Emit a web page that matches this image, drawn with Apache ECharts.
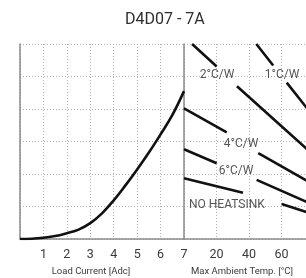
<!DOCTYPE html>
<html>
<head>
<meta charset="utf-8">
<script src="https://cdn.jsdelivr.net/npm/echarts@6/dist/echarts.min.js"></script>
<style>
  html, body { margin: 0; padding: 0; background: #fff; }
  #chart { width: 306px; height: 278px; }
</style>
</head>
<body>
<div id="chart"></div>
<script>
var FONT = "Roboto, 'Liberation Sans', sans-serif";

// left panel: power dissipation vs load current
var loadCurrent = [0, 0.5, 1, 1.5, 2, 2.5, 3, 3.5, 4, 4.5, 5, 5.5, 6, 6.5, 7];
var powerDiss = [0, 0.01, 0.04, 0.09, 0.18, 0.29, 0.49, 0.79, 1.19, 1.65, 2.14, 2.66, 3.22, 3.81, 4.55];

// right panel: derating lines [temp, power], null = gap for the label
var derate1 = [[44.5, 6.0], [54.9, 5.34], null, [63.2, 4.81], [80, 3.75]];
var derate2 = [[5, 6.0], [20.1, 5.31], null, [32.6, 4.7], [80, 2.57]];
var derate4 = [[0, 4.02], [26.3, 3.28], null, [45.7, 2.64], [80, 1.67]];
var derate6 = [[0, 2.76], [20.1, 2.33], null, [44.7, 1.82], [80, 1.04]];
var derateNone = [[0, 1.87], [36.3, 1.42], null, [60.1, 1.08], [80, 0.75]];

var ratingNames = ['2°C/W', '1°C/W', '4°C/W', '6°C/W', 'NO HEATSINK'];
var ratingLabelPos = [[20.3, 5.05], [60.3, 5.05], [35.1, 2.91], [32, 2.09], [26.4, 1.05]];

var chart = echarts.init(document.getElementById('chart'));

var gridLine = { show: true, lineStyle: { color: '#b0b0b0', type: [1, 2], width: 1 } };
var axisBorder = { show: true, lineStyle: { color: '#8a8a8a', width: 1.5 } };

function derateSeries(data) {
    return {
        type: 'line',
        xAxisIndex: 1,
        yAxisIndex: 1,
        data: data,
        showSymbol: false,
        connectNulls: false,
        lineStyle: { color: '#111', width: 2.6 },
        silent: true
    };
}

var option = {
    animation: false,
    title: {
        text: 'D4D07 - 7A',
        left: 125,
        top: 12,
        padding: 0,
        textStyle: { fontFamily: FONT, fontSize: 16, fontWeight: 'normal', color: '#2e2e2e' }
    },
    grid: [
        { left: 20, top: 44, width: 164, height: 195, outerBoundsMode: 'none' },
        { left: 184, top: 44, width: 130, height: 195, outerBoundsMode: 'none' }
    ],
    xAxis: [
        {
            gridIndex: 0, type: 'value', min: 0, max: 7, interval: 1,
            axisLine: axisBorder, axisTick: { show: false },
            axisLabel: { showMinLabel: false, margin: 9, fontFamily: FONT, fontSize: 12.5, color: '#3a3a3a' },
            splitLine: gridLine,
            name: 'Load Current [Adc]', nameLocation: 'middle', nameGap: 28,
            nameTextStyle: { fontFamily: FONT, fontSize: 9.5, color: '#3a3a3a', padding: [0, 22, 0, 0] }
        },
        {
            gridIndex: 1, type: 'value', min: 0, max: 80, interval: 20,
            axisLine: axisBorder, axisTick: { show: false },
            axisLabel: { showMinLabel: false, margin: 9, fontFamily: FONT, fontSize: 12.5, color: '#3a3a3a' },
            splitLine: gridLine,
            name: 'Max Ambient Temp. [°C]', nameLocation: 'middle', nameGap: 28,
            nameTextStyle: { fontFamily: FONT, fontSize: 9.5, color: '#3a3a3a', padding: [0, 14, 0, 0] }
        }
    ],
    yAxis: [
        {
            gridIndex: 0, type: 'value', min: 0, max: 6, interval: 1,
            axisLine: axisBorder, axisTick: { show: false }, axisLabel: { show: false },
            splitLine: gridLine
        },
        {
            gridIndex: 1, type: 'value', min: 0, max: 6, interval: 1,
            axisLine: axisBorder, axisTick: { show: false }, axisLabel: { show: false },
            splitLine: gridLine
        }
    ],
    series: [
        {
            type: 'line',
            xAxisIndex: 0,
            yAxisIndex: 0,
            data: loadCurrent.map(function (c, i) { return [c, powerDiss[i]]; }),
            smooth: 0.4,
            showSymbol: false,
            lineStyle: { color: '#111', width: 2.6 }
        },
        derateSeries(derate1),
        derateSeries(derate2),
        derateSeries(derate4),
        derateSeries(derate6),
        derateSeries(derateNone),
        {
            type: 'scatter',
            xAxisIndex: 1,
            yAxisIndex: 1,
            symbolSize: 0,
            data: ratingLabelPos.map(function (p, i) { return { value: p, name: ratingNames[i] }; }),
            label: {
                show: true,
                position: 'inside',
                formatter: '{b}',
                fontFamily: FONT,
                fontSize: 12,
                color: '#2a2a2a'
            }
        }
    ]
};

chart.setOption(option);
</script>
</body>
</html>
